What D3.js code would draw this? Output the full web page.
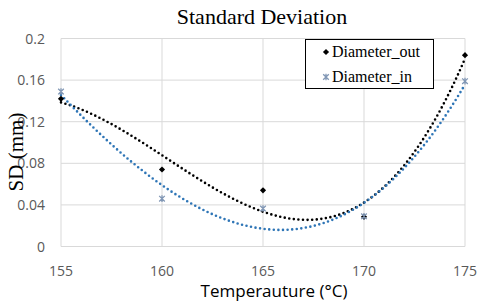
<!DOCTYPE html>
<html>
<head>
<meta charset="utf-8">
<script src="https://cdn.jsdelivr.net/npm/d3@7"></script>
<style>
  body { margin: 0; background: #fff; }
  svg { display: block; }
</style>
</head>
<body>
<svg width="477" height="306"></svg>
<script>
// values
const temps = [155, 160, 165, 170, 175];
const diameterOut = [0.142, 0.074, 0.054, 0.0285, 0.184];
const diameterIn = [0.149, 0.046, 0.0365, 0.029, 0.159];
const xTicks = [155, 160, 165, 170, 175];
const yTicks = [0, 0.04, 0.08, 0.12, 0.16, 0.2];
const seriesNames = ["Diameter_out", "Diameter_in"];

const svg = d3.select("svg");
const x = d3.scaleLinear().domain([155, 175]).range([61, 465]);
const y = d3.scaleLinear().domain([0, 0.2]).range([246.5, 38.5]);

// gridlines
svg.append("g").selectAll("line").data(yTicks).enter().append("line")
    .attr("x1", x.range()[0]).attr("x2", x.range()[1])
    .attr("y1", d => y(d)).attr("y2", d => y(d))
    .style("stroke", "#d9d9d9").style("stroke-width", 1);
svg.append("g").selectAll("line").data(xTicks).enter().append("line")
    .attr("y1", y.range()[0]).attr("y2", y.range()[1])
    .attr("x1", d => x(d)).attr("x2", d => x(d))
    .style("stroke", "#d9d9d9").style("stroke-width", 1);

// tick labels
svg.append("g").selectAll("text").data(yTicks).enter().append("text")
    .attr("x", 45).attr("y", d => y(d) + 5)
    .attr("text-anchor", "end")
    .style("font", "14px 'Open Sans'").style("fill", "#595959")
    .text(d => d);
svg.append("g").selectAll("text").data(xTicks).enter().append("text")
    .attr("x", d => x(d)).attr("y", 276)
    .attr("text-anchor", "middle")
    .style("font", "14px 'Open Sans'").style("fill", "#595959")
    .text(d => d);

// cubic trendline (least squares), as the spreadsheet does
function polyFit(xs, ys, order) {
    const n = order + 1;
    const m = [];
    for (let r = 0; r < n; r++) {
        m.push([]);
        for (let c = 0; c < n; c++) m[r].push(d3.sum(xs, v => Math.pow(v, r + c)));
        m[r].push(d3.sum(xs, (v, i) => Math.pow(v, r) * ys[i]));
    }
    for (let i = 0; i < n; i++) {
        let p = i;
        for (let k = i + 1; k < n; k++) if (Math.abs(m[k][i]) > Math.abs(m[p][i])) p = k;
        [m[i], m[p]] = [m[p], m[i]];
        for (let k = i + 1; k < n; k++) {
            const f = m[k][i] / m[i][i];
            for (let c = i; c <= n; c++) m[k][c] -= f * m[i][c];
        }
    }
    const coef = new Array(n).fill(0);
    for (let i = n - 1; i >= 0; i--) {
        let s = m[i][n];
        for (let c = i + 1; c < n; c++) s -= m[i][c] * coef[c];
        coef[i] = s / m[i][i];
    }
    return coef;
}

function trendline(values, color) {
    const mid = 165;
    const coef = polyFit(temps.map(t => t - mid), values, 3);
    const pts = d3.range(155, 175.01, 0.25).map(t => [t, d3.sum(coef, (c, i) => c * Math.pow(t - mid, i))]);
    svg.append("path")
        .attr("d", d3.line().x(d => x(d[0])).y(d => y(d[1]))(pts))
        .style("fill", "none")
        .style("stroke", color)
        .style("stroke-width", 2.6)
        .style("stroke-linecap", "round")
        .style("stroke-dasharray", "0 4.6");
}

trendline(diameterOut, "#000");
trendline(diameterIn, "#2e75b6");

// markers: small square diamond and an asterisk
const diamond = d3.symbol().type(d3.symbolSquare).size(19);
function asterisk(g, cx, cy) {
    const r = 2.8;
    g.append("path")
        .attr("d", `M${cx - r},${cy - r}L${cx + r},${cy + r}M${cx - r},${cy + r}L${cx + r},${cy - r}M${cx},${cy - r - 0.5}L${cx},${cy + r + 0.5}`)
        .style("stroke", "#8197b5").style("stroke-width", 1.3).style("fill", "none");
}

svg.append("g").selectAll("path").data(temps).enter().append("path")
    .attr("transform", (d, i) => `translate(${x(d)},${y(diameterOut[i])}) rotate(45)`)
    .attr("d", diamond)
    .style("fill", "#000");
const inG = svg.append("g");
temps.forEach((t, i) => asterisk(inG, x(t), y(diameterIn[i])));

// titles
svg.append("text")
    .attr("x", 262).attr("y", 24)
    .attr("text-anchor", "middle")
    .style("font", "22px 'Liberation Serif'").style("fill", "#000")
    .text("Standard Deviation");
svg.append("text")
    .attr("x", 274).attr("y", 297)
    .attr("text-anchor", "middle")
    .style("font", "17px 'Open Sans'").style("fill", "#000")
    .text("Temperauture (°C)");
svg.append("text")
    .attr("transform", "translate(23,152) rotate(-90)")
    .attr("text-anchor", "middle")
    .style("font", "21px 'Liberation Serif'").style("fill", "#000")
    .text("SD (mm)");

// legend
const legend = svg.append("g");
legend.append("rect")
    .attr("x", 305.5).attr("y", 39.5).attr("width", 128).attr("height", 49)
    .style("fill", "#fff").style("stroke", "#000").style("stroke-width", 1);
legend.append("path")
    .attr("transform", "translate(326,52) rotate(45)")
    .attr("d", diamond)
    .style("fill", "#000");
asterisk(legend, 326, 77);
legend.selectAll("text").data(seriesNames).enter().append("text")
    .attr("x", 332).attr("y", (d, i) => 57 + i * 25)
    .style("font", "16px 'Liberation Serif'").style("fill", "#000")
    .text(d => d);
</script>
</body>
</html>
